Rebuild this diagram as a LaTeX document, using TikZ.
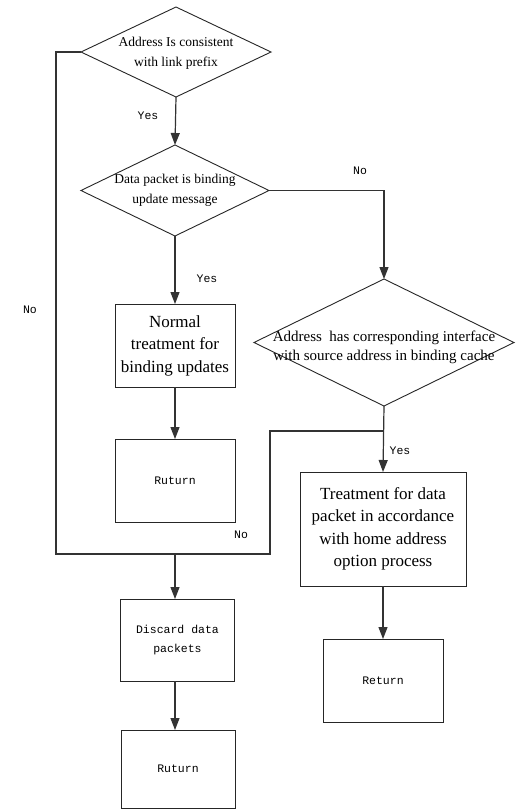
\documentclass[tikz,border=0pt]{standalone}
\usepackage{fontspec}
\setmainfont{Liberation Serif}
\newfontfamily\lblfont{Liberation Mono}
\usetikzlibrary{arrows.meta,shapes.geometric}
\begin{document}
\begin{tikzpicture}[x=1pt,y=-1pt,
  ln/.style={draw=black!80, line width=1.2pt},
  arr/.style={ln, -{Triangle[length=12pt,width=9pt]}},
  dia/.style={shape=diamond, draw=black!85, line width=0.9pt, inner sep=0pt, outer sep=0pt},
  box/.style={draw=black!85, line width=1pt, inner sep=0pt, outer sep=0pt, align=center},
  lbl/.style={font=\lblfont\fontsize{11.5}{18.5}\selectfont},
  dtext/.style={align=center, font=\fontsize{13.5}{20}\selectfont},
  btext/.style={font=\fontsize{17}{22.5}\selectfont}
]
\useasboundingbox (0,0) rectangle (515,812);
\fill[white] (0,0) rectangle (515,812);

% decisions
\node[dia, minimum width=190pt, minimum height=90pt,
  label={[dtext, yshift=-1.5pt]center:Address Is consistent\\with link prefix}] (d1) at (176,52) {};
\node[dia, minimum width=188pt, minimum height=91pt,
  label={[dtext]center:Data packet is binding\\update message}] (d2) at (175,190.5) {};
\node[dia, minimum width=260pt, minimum height=127pt,
  label={[align=center, yshift=-5pt, font=\fontsize{15}{19.5}\selectfont]center:Address\ \ has corresponding interface\\with source address in binding cache}] (d3) at (384,342.5) {};

% process boxes
\node[box, btext, minimum width=120pt, minimum height=83pt] (b1) at (175,345.5) {Normal\\treatment for\\binding updates};
\node[box, lbl, minimum width=120pt, minimum height=83pt] (r1) at (175,480.5) {Ruturn};
\node[box, btext, minimum width=166pt, minimum height=114pt] (tr) at (383,529) {Treatment for data\\packet in accordance\\with home address\\option process};
\node[box, lbl, minimum width=120pt, minimum height=83pt] (r3) at (383,680.5) {Return};
\node[box, lbl, minimum width=114pt, minimum height=82pt] (dc) at (177.5,640) {Discard data\\packets};
\node[box, lbl, minimum width=114pt, minimum height=78pt] (r2) at (178,769) {Ruturn};

% helper coordinates
\coordinate (c1) at (56,52);
\coordinate (c2) at (56,554);
\coordinate (j1) at (175,554);
\coordinate (j3) at (384,431);
\coordinate (c3) at (270,431);
\coordinate (c4) at (270,554);

% connectors
\draw[arr] (d1.south) -- (d2.north);
\draw[arr] (d2.south) -- (b1.north);
\draw[arr] (b1.south) -- (r1.north);
\draw[arr] (d2.east) -| (d3.north);
\draw[arr] (d3.south) -- (tr.north);
\draw[arr] (tr.south) -- (r3.north);
\draw[ln] (d1.west) -- (c1) -- (c2) -- (j1);
\draw[ln] (j3) -- (c3) -- (c4) -- (j1);
\draw[arr] (j1) -- (j1 |- dc.north);
\draw[arr] (dc.south -| j1) -- (j1 |- r2.north);

% labels
\node[lbl] (y1) at (148,116) {Yes};
\node[lbl] (n1) at (360,171) {No};
\node[lbl] (y2) at (207,279) {Yes};
\node[lbl] (n2) at (30,310) {No};
\node[lbl] (y3) at (400,451) {Yes};
\node[lbl] (n3) at (241,535) {No};
\end{tikzpicture}
\end{document}
